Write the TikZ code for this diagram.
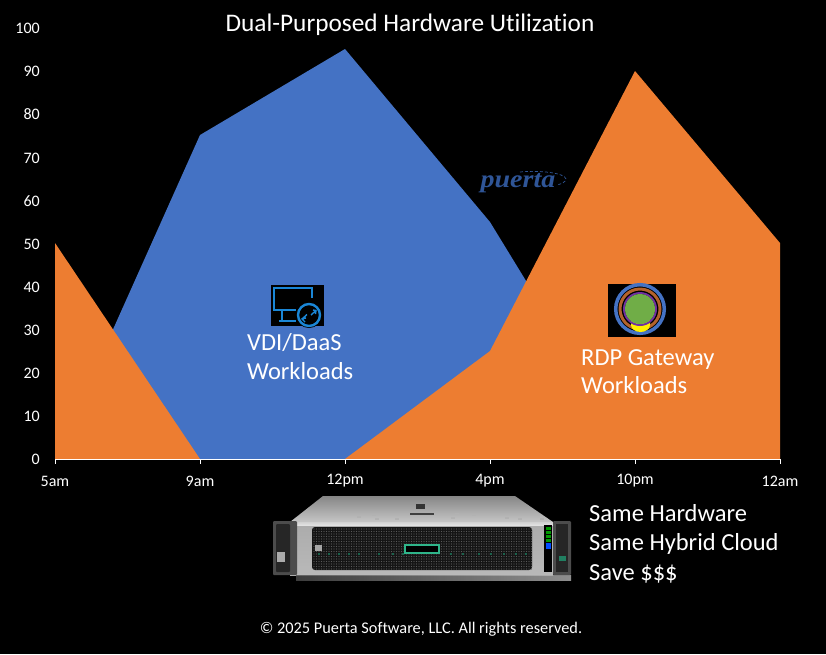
\documentclass[tikz,border=0pt]{standalone}
\usepackage{fontspec}
\setmainfont[Ligatures=CommonOff]{Carlito}
\newfontfamily\logofont{Liberation Serif}
\usetikzlibrary{calc}
\definecolor{vdiblue}{HTML}{4472C4}
\definecolor{gworange}{HTML}{ED7D31}
\definecolor{logoblue}{HTML}{2F5597}
\definecolor{iconblue}{HTML}{1A86D6}
\definecolor{srvgreen}{HTML}{2FB58A}
\definecolor{gwbrown}{HTML}{B4622C}
\definecolor{gwpurple}{HTML}{7030A0}
\definecolor{gwgreen}{HTML}{70AD47}
\tikzset{
 axislabel/.style={text=white,font=\fontsize{16}{18}\selectfont,inner sep=0pt},
 biglabel/.style={text=white,font=\fontsize{24.5}{29}\selectfont,inner sep=0pt,anchor=base west},
 iconline/.style={iconblue,line width=2.4pt},
}
\begin{document}
\begin{tikzpicture}[x=1pt,y=-1pt]
\fill[black] (0,0) rectangle (826,654);
\useasboundingbox (0,0) rectangle (826,654);
% areas
\fill[vdiblue] (55,459) -- (200,135) -- (345,49) -- (490,222) -- (635,459) -- cycle;
\fill[gworange] (55,459) -- (55,243) -- (200,459) -- (345,459) -- (490,351) -- (635,71) -- (780,243) -- (780,459) -- cycle;
\draw[white,line width=1pt] (55,459.5) -- (780,459.5);
\foreach \x in {55,200,345,490,635,780} \draw[white,line width=0.8pt] (\x,459) -- (\x,464);
% y labels
\foreach \v/\y in {100/28,90/71,80/114,70/158,60/201,50/244,40/287,30/330,20/373,10/416,0/459}
  \node[axislabel,anchor=east] (y\v) at (40,\y) {\v};
\foreach \n/\l/\x in {a/5am/55,b/9am/200,c/12pm/345,d/4pm/490,e/10pm/635,f/12am/780}
  \node[axislabel] (x\n) at (\x,481) {\l};
\node[text=white,font=\fontsize{25.3}{28}\selectfont,inner sep=0pt] (title) at (410,25) {Dual-Purposed Hardware Utilization};
% logo
\node[text=logoblue,inner sep=0pt,anchor=base,font=\logofont\bfseries\itshape\fontsize{25}{25}\selectfont,xscale=1.12] (logo) at (518,187) {puerta};
\draw[logoblue,densely dashed,line width=0.7pt] (520,172) .. controls (540,170) and (565,173) .. (566,179) .. controls (566,182) and (561,184) .. (557,185);
% VDI icon
\fill[black] (271,285) rectangle (324,326);
\draw[iconline] (312,298) -- (312,288) -- (274,288) -- (274,310) -- (296,310);
\draw[iconline] (282,310) -- (282,320) (279,321) -- (296,321);
\fill[black] (309,315) circle (13);
\draw[iconline] (309,315) circle (11);
\draw[iconblue,line width=1.4pt] (302,319) -- (307,314.5) (305,322) -- (302,319) -- (306,318)
  (311,315) -- (316,310.5) (313,310) -- (316,310.5) -- (315.5,314);
% Gateway icon
\fill[black] (608,284) rectangle (676,337);
\draw[vdiblue,line width=3.5pt] (640,309) circle (24.3);
\draw[gwbrown,line width=3pt] (640,309) circle (20);
\fill[yellow] (631,320) -- (650,320) -- (650,325) arc (0:180:9.5 and 7) -- cycle;
\draw[gwpurple,line width=2pt] (640,309) circle (16);
\fill[gwgreen] (640,309) circle (15);
% labels
\node[biglabel] (vdia) at (247,350) {VDI/DaaS};
\node[biglabel] (vdib) at (247,379) {Workloads};
\node[biglabel] (rdpa) at (581,365) {RDP Gateway};
\node[biglabel] (rdpb) at (581,393) {Workloads};
\node[biglabel] (samea) at (589,521) {Same Hardware};
\node[biglabel] (sameb) at (589,550) {Same Hybrid Cloud};
\node[biglabel] (samec) at (589,580) {Save \$\$\$};
\node[text=white,inner sep=0pt,font=\fontsize{16.3}{18}\selectfont] (copy) at (421,629) {© 2025 Puerta Software, LLC. All rights reserved.};
% server
\shade[top color=gray!95,bottom color=gray!45] (323,496) -- (515,496) -- (553,522) -- (290,522) -- cycle;
\foreach \x/\y in {357/516,372/514,375/518,395/518,451/517,455/513,472/514,505/517,518/518,540/518}
  \fill[gray!60] (\x,\y) rectangle (\x+4,\y+1.5);
\fill[black!75] (410,513) rectangle (434,514.5);
\fill[black!80] (416,504) rectangle (425,509);
\shade[top color=gray!35,bottom color=gray!20] (290,522) rectangle (553,526);
\shade[top color=gray!65,bottom color=gray!55] (290,526) rectangle (553,575);
\shade[left color=black!70,right color=black!30,fill opacity=.8] (296,575) rectangle (571,580);
\fill[black!92,rounded corners=3pt] (312,527) -- (532,527) -- (532,570) -- (312,570) -- cycle;
\foreach \i in {0,...,87} \foreach \j in {0,...,16}
  \fill[black!65] ({314+2.5*\i},{529+2.5*\j}) circle (0.7);
\fill[black!70,rounded corners=1pt] (273,521) rectangle (297,575);
\fill[black!85,rounded corners=1pt] (276,524) rectangle (290,572);
\fill[gray!65] (277,552) rectangle (285,562);
\fill[black!70,rounded corners=1pt] (553,521) rectangle (571,575);
\fill[black!85] (556,524) rectangle (568,572);
\fill[srvgreen!70!black] (559,556) rectangle (566,561);
\fill[black] (544,525) rectangle (552,572);
\foreach \y/\c in {527/green!60!black,531/green!60!black,535/green!60!black,539/green!60!black,543/blue!70!cyan,546/blue!70!cyan}
  \fill[\c] (546,\y) rectangle (551,\y+2.5);
\fill[black] (404,544) rectangle (440,554);
\draw[srvgreen,line width=1.6pt] (405,545) rectangle (439,553);
\foreach \x in {318,328,338,348,358,378,392,402,450,462,478,490,503,515,525}
  \fill[srvgreen!55!black] (\x,553) rectangle (\x+2,555);
\fill[gray!70] (315,545) rectangle (322,551);
\end{tikzpicture}
\end{document}
